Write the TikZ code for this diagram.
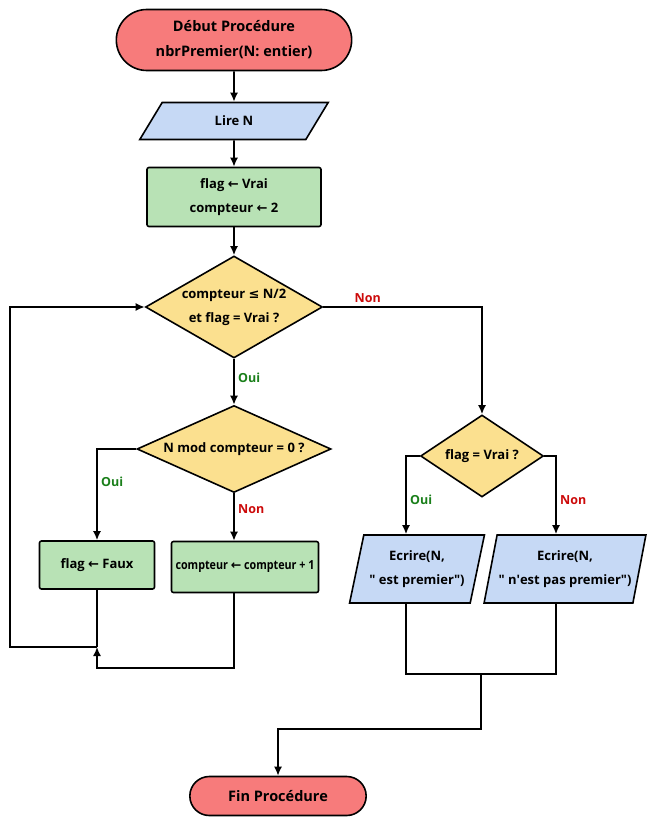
\documentclass[tikz,border=0pt]{standalone}
\usepackage{fontspec}
\setmainfont{Open Sans}
\newfontfamily\symfont{DejaVu Sans}
\newfontfamily\condfont{Open Sans}[FakeStretch=0.86]
\usetikzlibrary{shapes.geometric,shapes.misc,positioning,arrows.meta}
\tikzset{>={Latex[length=9pt,width=8pt]}}

\definecolor{rougeclair}{HTML}{F77B7B}
\definecolor{bleuclair}{HTML}{C6D9F5}
\definecolor{vertclair}{HTML}{B8E2B5}
\definecolor{jaune}{HTML}{FBE08F}
\definecolor{vertoui}{HTML}{1A7F1A}
\definecolor{rougenon}{HTML}{CC0A0A}

\newcommand{\fleche}{{\symfont ←}}
\newcommand{\infeg}{{\symfont ≤}}
\newcommand{\guill}{\textquotedbl}

\tikzset{
  terminal/.style={draw, line width=1.6pt, rounded rectangle, fill=rougeclair, align=center,
    font=\bfseries\fontsize{14.5}{25}\selectfont},
  entree/.style={draw, line width=1.6pt, trapezium, trapezium stretches=true, fill=bleuclair, align=center, inner sep=0pt},
  traitement/.style={draw, line width=1.6pt, rectangle, rounded corners=2pt, fill=vertclair, align=center, inner sep=0pt},
  decision/.style={draw, line width=1.6pt, diamond, fill=jaune, align=center, inner sep=0pt},
  oui/.style={text=vertoui, font=\bfseries\fontsize{12.5}{15}\selectfont},
  non/.style={text=rougenon, font=\bfseries\fontsize{12.5}{15}\selectfont},
}

\begin{document}
\begin{tikzpicture}[x=1pt, y=-1pt, line width=1.6pt,
    every node/.append style={font=\bfseries\fontsize{13}{24}\selectfont}]
  \useasboundingbox (0,0) rectangle (650,824);

  \node[terminal, minimum width=242pt, minimum height=61pt] (debut) at (234,40) {Début Procédure\\nbrPremier(N: entier)};
  \node[entree, trapezium left angle=59, trapezium right angle=121, minimum width=189pt, minimum height=37pt, below of=debut, node distance=81pt] (lire) {Lire N};
  \node[traitement, minimum width=174pt, minimum height=59pt, below of=lire, node distance=76pt] (init) {flag \fleche{} Vrai\\compteur \fleche{} 2};
  \node[decision, aspect=1.74, minimum width=177pt, minimum height=102pt, below of=init, node distance=110pt] (test1) {compteur \infeg{} N/2\\et flag = Vrai ?};
  \node[decision, aspect=2.23, minimum width=194pt, minimum height=87pt, below of=test1, node distance=142pt] (test2) {N mod compteur = 0 ?};
  \node[traitement, minimum width=115pt, minimum height=48pt] (faux) at (97,565) {flag \fleche{} Faux};
  \node[traitement, minimum width=147pt, minimum height=51pt, font=\condfont\bfseries\fontsize{12.5}{15}\selectfont] (incr) at (245,567) {compteur \fleche{} compteur + 1};
  \node[decision, aspect=1.5, minimum width=123pt, minimum height=82pt] (test3) at (482,456) {flag = Vrai ?};
  \node[entree, trapezium left angle=71, trapezium right angle=109, minimum width=135pt, minimum height=68pt] (ecrire1) at (417,569) {Ecrire(N,\\\guill{} est premier\guill)};
  \node[entree, trapezium left angle=71, trapezium right angle=109, minimum width=162pt, minimum height=68pt] (ecrire2) at (565,569) {Ecrire(N,\\\guill{} n\textquotesingle est pas premier\guill)};
  \node[terminal, minimum width=183pt, minimum height=39pt] (fin) at (278,796) {Fin Procédure};

  \coordinate (jonction) at (97,647);
  \coordinate (boucle) at (10,647);
  \coordinate (bas) at (234,668);
  \coordinate (m1) at (406,674);
  \coordinate (m2) at (556,674);
  \coordinate (fusion) at (481,674);
  \coordinate (coude) at (481,729);

  \draw[->] (debut) -- (lire);
  \draw[->] (lire) -- (init);
  \draw[->] (init) -- (test1);
  \draw[->] (test1) -- node[oui, right, pos=0.42] {Oui} (test2);
  \draw[->] (test1.east) -| node[non, above, pos=0.14] {Non} (test3.north);
  \draw[->] (test2.west) -| node[oui, right, pos=0.68] {Oui} (faux.north);
  \draw[->] (test2.south) -- node[non, right, pos=0.33] {Non} (test2.south |- incr.north);
  \draw (faux.south) -- (jonction);
  \draw[->] (jonction) -- (boucle) |- (test1.west);
  \draw[->] (test2.south |- incr.south) -- (bas) -| (jonction);
  \draw[->] (test3.west) -| node[oui, right, pos=0.78] {Oui} (m1 |- ecrire1.north);
  \draw[->] (test3.east) -| node[non, right, pos=0.78] {Non} (m2 |- ecrire2.north);
  \draw (m1 |- ecrire1.south) -- (m1) -- (m2) -- (m2 |- ecrire2.south);
  \draw[->] (fusion) -- (coude) -| (fin);
\end{tikzpicture}
\end{document}
